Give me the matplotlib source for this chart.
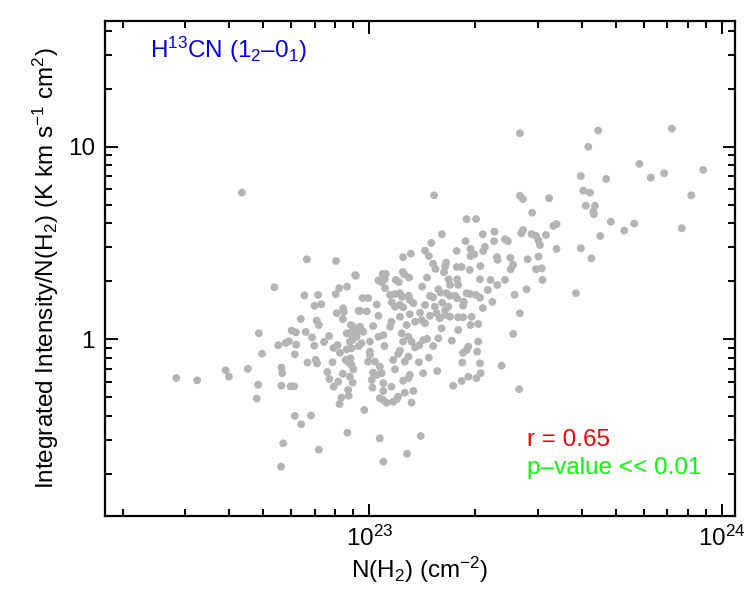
import numpy as np
import matplotlib
matplotlib.use("Agg")
import matplotlib.pyplot as plt
from matplotlib.ticker import FixedLocator, LogLocator, NullFormatter, FixedFormatter

plt.rcParams['font.family'] = ['Liberation Sans', 'DejaVu Sans']
plt.rcParams['mathtext.fontset'] = 'custom'
plt.rcParams['mathtext.rm'] = 'Liberation Sans'
plt.rcParams['mathtext.it'] = 'Liberation Sans:italic'

# log10 N(H2) [cm^-2]
log_nh2 = [
    22.639, 22.823, 22.906, 22.962, 22.731, 22.816, 22.855, 22.915, 22.937, 22.905,
    22.845, 22.864, 22.926, 22.928, 22.908, 22.970, 22.806, 22.851, 22.925, 22.857,
    22.687, 22.780, 22.792, 22.820, 22.838, 22.886, 22.872, 22.948, 22.955, 22.936,
    22.950, 22.964, 22.974, 22.952, 22.742, 22.763, 22.772, 22.793, 22.844, 22.899,
    22.910, 22.917, 22.936, 22.970, 22.696, 22.789, 22.825, 22.848, 22.852, 22.896,
    22.933, 22.942, 22.947, 22.950, 22.955, 22.751, 22.753, 22.656, 22.593, 22.602,
    22.453, 22.512, 22.881, 22.925, 22.945, 22.887, 22.912, 22.953, 22.899, 22.685,
    22.751, 22.777, 22.787, 22.940, 22.942, 22.921, 22.916, 22.681, 22.789, 22.835,
    22.807, 22.938, 22.756, 22.857, 22.750,
    23.184, 23.427, 23.436, 23.276, 23.303, 23.206, 23.322, 23.355, 23.436, 23.431,
    23.273, 23.354, 23.385, 23.393, 23.176, 23.158, 23.169, 23.118, 23.096, 23.287,
    23.298, 23.287, 23.328, 23.323, 23.248, 23.362, 23.364, 23.400, 23.449, 23.181,
    23.188, 23.218, 23.215, 23.212, 23.248, 23.262, 23.285, 23.315, 23.408, 23.401,
    22.960, 23.038, 23.047, 23.095, 23.099, 23.026, 23.034, 23.044, 23.075, 23.084,
    23.113, 23.164, 23.225, 23.229, 23.249, 23.252, 23.314, 23.344, 23.363, 23.385,
    23.446, 23.150, 23.196, 23.202, 23.045, 23.059, 23.073, 23.087, 23.093, 23.112,
    23.115, 22.981, 22.997, 23.172, 23.181, 23.219, 23.229, 23.244, 23.249, 23.276,
    23.285, 23.302, 23.314, 23.336, 23.412, 23.064, 23.073, 23.087, 23.096, 23.125,
    23.158, 23.021, 22.974, 22.993, 23.186, 23.207, 23.215, 23.224, 23.266, 23.268,
    23.322, 23.349, 23.427, 23.026, 23.087, 23.115, 23.144, 23.172, 23.191, 23.215,
    23.229, 23.252, 23.290,
    22.974, 22.945, 22.964, 22.983, 23.011, 23.063, 23.059, 23.106, 23.092, 23.111,
    23.130, 23.149, 23.158, 23.200, 23.205, 23.266, 23.287, 23.309, 23.252, 23.408,
    23.026, 23.040, 22.945, 22.950, 22.978, 23.002, 23.096, 23.120, 23.153, 23.164,
    23.196, 23.234, 23.309, 23.043, 23.130, 23.142, 23.181, 23.281, 23.276, 23.266,
    23.306, 23.002, 23.002, 23.087, 23.082, 23.111, 23.169, 22.997, 23.016, 23.068,
    23.101, 23.141, 23.264, 23.314, 23.375, 23.030, 23.073, 23.193, 23.011, 23.021,
    23.035, 23.115, 23.111, 23.153, 23.316, 23.304, 23.281, 23.262, 23.238, 23.007,
    23.040, 23.096, 23.009, 23.063, 23.040, 23.101, 23.125, 23.425, 23.030, 23.040,
    23.049, 23.068, 23.078, 23.082, 23.120, 22.986, 23.030, 23.146, 23.107, 23.040,
    23.427, 23.649, 23.858, 23.621, 23.766, 23.947, 23.600, 23.672, 23.798, 23.836,
    23.607, 23.626, 23.913, 23.510, 23.614, 23.640, 23.635, 23.637, 23.462, 23.685,
    23.751, 23.723, 23.886, 23.522, 23.531, 23.460, 23.473, 23.479, 23.484, 23.501,
    23.655, 23.600, 23.531, 23.630, 23.480, 23.473, 23.489, 23.491, 23.586,
]

# log10 of integrated intensity / N(H2)
log_ratio = [
    0.761, 0.415, 0.406, 0.330, 0.270, 0.228, 0.230, 0.265, 0.273, 0.234,
    0.174, 0.182, 0.161, 0.143, 0.136, 0.147, 0.105, 0.097, 0.105, 0.074,
    0.031, 0.045, 0.036, 0.038, 0.010, 0.017, -0.014, 0.074, 0.065, 0.031,
    0.039, 0.028, 0.048, -0.004, -0.031, -0.019, -0.010, -0.028, -0.033, -0.045,
    -0.030, -0.070, -0.052, -0.035, -0.075, -0.078, -0.121, -0.106, -0.125, -0.119,
    -0.107, -0.121, -0.099, -0.133, -0.156, -0.147, -0.176, -0.153, -0.161, -0.194,
    -0.201, -0.213, -0.170, -0.179, -0.194, -0.206, -0.220, -0.225, -0.246, -0.236,
    -0.241, -0.244, -0.244, -0.263, -0.293, -0.303, -0.336, -0.308, -0.398, -0.396,
    -0.441, -0.485, -0.540, -0.573, -0.661,
    0.747, 0.745, 0.727, 0.623, 0.624, 0.545, 0.545, 0.558, 0.567, 0.550,
    0.509, 0.509, 0.519, 0.509, 0.500, 0.460, 0.432, 0.444, 0.426, 0.470,
    0.441, 0.432, 0.479, 0.458, 0.458, 0.426, 0.412, 0.423, 0.415, 0.392,
    0.365, 0.398, 0.377, 0.348, 0.375, 0.375, 0.360, 0.380, 0.387, 0.363,
    0.332, 0.339, 0.339, 0.349, 0.337, 0.306, 0.296, 0.311, 0.308, 0.297,
    0.320, 0.320, 0.311, 0.282, 0.311, 0.282, 0.311, 0.308, 0.282, 0.308,
    0.259, 0.273, 0.259, 0.242, 0.265, 0.230, 0.234, 0.239, 0.220, 0.226,
    0.204, 0.214, 0.214, 0.225, 0.218, 0.239, 0.225, 0.225, 0.213, 0.239,
    0.235, 0.230, 0.216, 0.256, 0.231, 0.192, 0.169, 0.178, 0.166, 0.187,
    0.178, 0.180, 0.148, 0.145, 0.169, 0.190, 0.152, 0.169, 0.174, 0.195,
    0.162, 0.194, 0.135, 0.122, 0.117, 0.130, 0.138, 0.122, 0.135, 0.126,
    0.117, 0.114, 0.117,
    0.065, 0.031, 0.013, 0.039, 0.069, 0.091, 0.065, 0.074, 0.031, 0.013,
    0.091, 0.100, 0.083, 0.109, 0.057, 0.114, 0.074, 0.079, 0.048, 0.028,
    0.013, 0.022, -0.012, -0.047, -0.021, -0.012, -0.012, -0.012, -0.004, 0.002,
    0.005, -0.007, -0.012, -0.035, -0.042, -0.031, -0.035, -0.038, -0.056, -0.070,
    -0.064, -0.064, -0.081, -0.059, -0.076, -0.090, -0.095, -0.116, -0.116, -0.107,
    -0.116, -0.119, -0.121, -0.125, -0.137, -0.142, -0.156, -0.165, -0.173, -0.185,
    -0.176, -0.185, -0.202, -0.176, -0.176, -0.202, -0.194, -0.216, -0.241, -0.211,
    -0.228, -0.215, -0.251, -0.246, -0.268, -0.277, -0.268, -0.259, -0.306, -0.315,
    -0.329, -0.324, -0.311, -0.298, -0.329, -0.367, -0.514, -0.502, -0.594, -0.635,
    1.069, 1.083, 1.093, 0.999, 0.910, 0.879, 0.847, 0.832, 0.839, 0.861,
    0.771, 0.761, 0.747, 0.732, 0.693, 0.693, 0.662, 0.649, 0.657, 0.610,
    0.600, 0.564, 0.576, 0.588, 0.598, 0.546, 0.536, 0.515, 0.489, 0.541,
    0.536, 0.472, 0.469, 0.420, 0.429, 0.363, 0.368, 0.308, 0.239,
]

x_ticks = [1e23, 1e24]
x_ticklabels = ['10$^{23}$', '10$^{24}$']
y_ticks = [1, 10]
y_ticklabels = ['1', '10']

nh2 = 10 ** np.array(log_nh2)
ratio = 10 ** np.array(log_ratio)

fig = plt.figure(figsize=(7.5, 6), dpi=100)
ax = fig.add_axes([0.1396, 0.14, 0.8404, 0.8255])

ax.scatter(nh2, ratio, s=32, color='#b4b4b4', edgecolors='none', zorder=2)

ax.set_xscale('log')
ax.set_yscale('log')
ax.set_xlim(10 ** 22.25, 10 ** 24.037)
ax.set_ylim(10 ** -0.917, 10 ** 1.653)

ax.xaxis.set_major_locator(FixedLocator(x_ticks))
ax.xaxis.set_major_formatter(FixedFormatter(x_ticklabels))
ax.xaxis.set_minor_locator(LogLocator(base=10, subs=np.arange(2, 10)))
ax.xaxis.set_minor_formatter(NullFormatter())
ax.yaxis.set_major_locator(FixedLocator(y_ticks))
ax.yaxis.set_major_formatter(FixedFormatter(y_ticklabels))
ax.yaxis.set_minor_locator(LogLocator(base=10, subs=np.arange(2, 10)))
ax.yaxis.set_minor_formatter(NullFormatter())

fs = 17.5
ax.tick_params(which='both', direction='in', top=True, right=True, width=1.4,
               labelsize=fs, pad=7)
ax.tick_params(which='major', length=9)
ax.tick_params(which='minor', length=5)
for sp in ax.spines.values():
    sp.set_linewidth(1.6)

ax.set_xlabel('N(H$_2$) (cm$^{-2}$)', fontsize=fs, labelpad=3)
ax.set_ylabel('Integrated Intensity/N(H$_2$) (K km s$^{-1}$ cm$^{2}$)', fontsize=fs, labelpad=5)

ax.text(0.072, 0.941, 'H$^{13}$CN (1$_2$\u20130$_1$)', transform=ax.transAxes,
        color='blue', fontsize=fs, va='center', ha='left')
ax.text(0.670, 0.153, 'r = 0.65', transform=ax.transAxes,
        color='red', fontsize=fs, va='center', ha='left')
ax.text(0.670, 0.097, 'p\u2013value << 0.01', transform=ax.transAxes,
        color='#00ff00', fontsize=fs, va='center', ha='left')

fig.savefig('out.png', dpi=100)
